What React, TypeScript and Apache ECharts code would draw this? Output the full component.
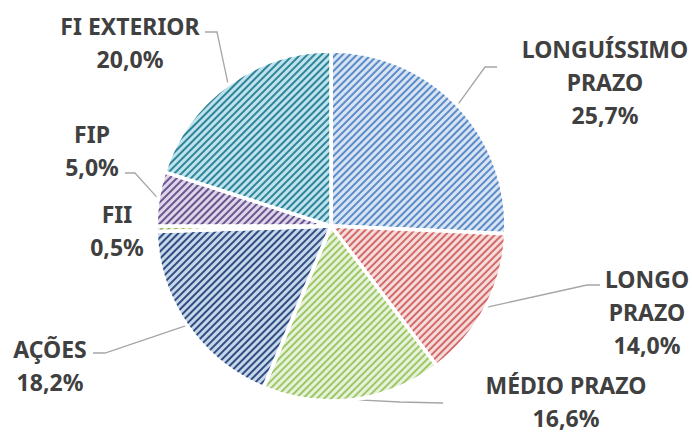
import React, { useEffect, useRef } from "react";
import * as echarts from "echarts";

const categories = [
  "LONGUÍSSIMO\nPRAZO",
  "LONGO\nPRAZO",
  "MÉDIO PRAZO",
  "AÇÕES",
  "FII",
  "FIP",
  "FI EXTERIOR",
];
const values = [25.7, 14.0, 16.6, 18.2, 0.5, 5.0, 20.0];
const fillColors = ["#d9e4f3", "#f4dcdc", "#e8f1d9", "#c8d6ea", "#e3ecd0", "#ddd5e8", "#bfe3ec"];
const stripeColors = ["#5b8bc8", "#d36a68", "#9cc868", "#2f4f82", "#8fae50", "#6a5490", "#2f8499"];

// label anchor (center of text block) and leader bend points
const labelPos: [number, number][] = [
  [605, 82],
  [647, 312],
  [566, 401],
  [50, 365],
  [117, 230],
  [92, 150],
  [130, 42],
];
const leaderBends: ([number, number][] | null)[] = [
  [[485, 67], [497, 67]],
  [[587, 285], [600, 285]],
  [[400, 402], [443, 403]],
  [[105, 353], [93, 353]],
  null,
  [[135, 173], [125, 173]],
  [[217, 32], [205, 32]],
];

export default function App() {
  const ref = useRef<HTMLDivElement>(null);
  useEffect(() => {
    if (!ref.current) return;
    const chart = echarts.init(ref.current, undefined, { renderer: "svg" });
    chart.setOption({
      animation: false,
      backgroundColor: "#ffffff",
      series: [
        {
          type: "pie",
          center: [331, 226],
          radius: 175,
          startAngle: 90,
          clockwise: true,
          avoidLabelOverlap: false,
          data: categories.map((name, i) => ({
            name,
            value: values[i],
            itemStyle: {
              color: fillColors[i],
              borderColor: "#ffffff",
              borderWidth: 3.5,
              decal: {
                symbol: "rect",
                symbolSize: 1,
                color: stripeColors[i],
                dashArrayX: [1, 0],
                dashArrayY: [1.6, 2.2],
                rotation: -Math.PI / 4,
              },
            },
            labelLine: { show: leaderBends[i] !== null },
          })),
          label: {
            show: true,
            position: "outside",
            formatter: (p: any) =>
              p.name + "\n" + Number(p.value).toFixed(1).replace(".", ",") + "%",
            fontFamily: "Noto Sans",
            fontWeight: "bold",
            fontSize: 23,
            lineHeight: 33,
            color: "#404040",
            align: "center",
          },
          labelLine: {
            show: true,
            length: 10,
            length2: 10,
            smooth: false,
            lineStyle: { color: "#a6a6a6", width: 1.3 },
          },
          labelLayout: (params: any) => {
            const i = params.dataIndex;
            const res: any = {
              x: labelPos[i][0],
              y: labelPos[i][1],
              align: "center",
              verticalAlign: "middle",
            };
            const bends = leaderBends[i];
            if (bends && params.labelLinePoints) {
              res.labelLinePoints = [params.labelLinePoints[0], bends[0], bends[1]];
            }
            return res;
          },
        },
      ],
    });
    return () => chart.dispose();
  }, []);
  return (
    <div
      ref={ref}
      style={{ position: "fixed", left: 0, top: 0, width: 692, height: 432 }}
    />
  );
}
